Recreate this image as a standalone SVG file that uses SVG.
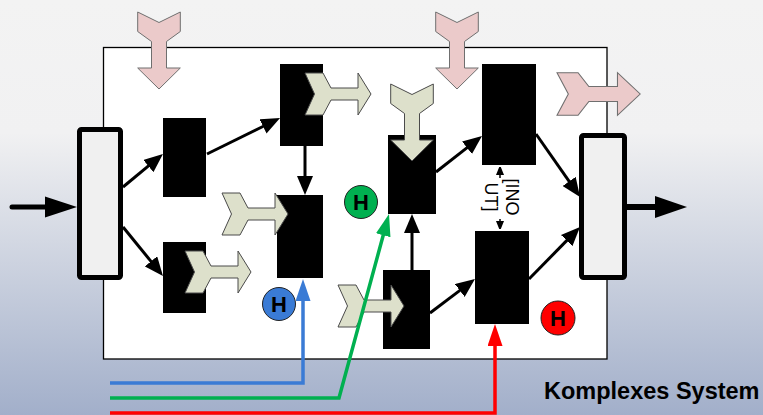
<svg xmlns="http://www.w3.org/2000/svg" width="763" height="415" viewBox="0 0 763 415">
  <defs>
    <linearGradient id="bg" x1="0" y1="0" x2="0" y2="1">
      <stop offset="0" stop-color="#f3f3f3"/>
      <stop offset="0.32" stop-color="#f1f1f2"/>
      <stop offset="1" stop-color="#a2afca"/>
    </linearGradient>
    <!-- notched arrow, long variant: tail at x=0, tip at x=77 -->
    <path id="arrowLong" d="M0,-21.3 L19.5,-21.3 L29.5,-7.5 L56,-7.5 L56,-21.3 L77,0 L56,21.3 L56,7.5 L29.5,7.5 L19.5,21.3 L0,21.3 L10.5,0 Z"/>
    <!-- notched arrow, short variant: tail at x=0, tip at x=66 -->
    <path id="arrowShort" d="M0,-21 L18,-21 L26,-6 L53,-6 L53,-21 L66,0 L53,21 L53,6 L26,6 L18,21 L0,21 L9.5,0 Z"/>
    <marker id="headBlack" markerUnits="userSpaceOnUse" markerWidth="20" markerHeight="16" refX="1" refY="8" orient="auto">
      <path d="M0,0 L19,8 L0,16 Z" fill="#000"/>
    </marker>
    <marker id="headBlue" markerUnits="userSpaceOnUse" markerWidth="23" markerHeight="15" refX="1" refY="7.5" orient="auto">
      <path d="M0,0 L22,7.5 L0,15 Z" fill="#3a7bd5"/>
    </marker>
    <marker id="headGreen" markerUnits="userSpaceOnUse" markerWidth="23" markerHeight="15" refX="1" refY="7.5" orient="auto">
      <path d="M0,0 L22,7.5 L0,15 Z" fill="#00b050"/>
    </marker>
    <marker id="headRed" markerUnits="userSpaceOnUse" markerWidth="23" markerHeight="15" refX="1" refY="7.5" orient="auto">
      <path d="M0,0 L22,7.5 L0,15 Z" fill="#ff0000"/>
    </marker>
    <marker id="headSmall" markerUnits="userSpaceOnUse" markerWidth="8" markerHeight="10" refX="1" refY="4" orient="auto">
      <path d="M0,0 L10,4 L0,8 Z" fill="#000"/>
    </marker>
  </defs>
  <style>
    .block { fill: #000; }
    .bar { fill: #f0f0f0; stroke: #000; stroke-width: 5; stroke-linejoin: round; }
    .pink { fill: #ebcaca; stroke: #6f6f6f; stroke-width: 1; }
    .sage { fill: #dde0cb; stroke: #4a4a4a; stroke-width: 1; }
    .conn { fill: none; stroke: #000; stroke-width: 3; marker-end: url(#headBlack); }
    .hcirc { stroke: #222; stroke-width: 1; }
    .hlab { font-family: "Liberation Sans", Arial, sans-serif; font-weight: bold; font-size: 22px; text-anchor: middle; fill: #000; }
    .feed { fill: none; stroke-width: 3.5; stroke-linejoin: miter; }
  </style>

  <rect x="0" y="0" width="763" height="415" fill="url(#bg)"/>

  <!-- system boundary -->
  <g id="system">
    <rect x="103.5" y="47.5" width="503.5" height="311.5" fill="#fff" stroke="#000" stroke-width="1.3"/>
  </g>

  <!-- input / output bars -->
  <g id="inputBar">
    <rect class="bar" x="79.5" y="129.5" width="41" height="148" rx="2"/>
  </g>
  <g id="outputBar">
    <rect class="bar" x="581.5" y="135.5" width="43" height="142" rx="2"/>
  </g>

  <!-- processing blocks -->
  <g id="block1"><rect class="block" x="163" y="118" width="43" height="79"/></g>
  <g id="block2"><rect class="block" x="280" y="64" width="43" height="82"/></g>
  <g id="block3"><rect class="block" x="163" y="242" width="43" height="71"/></g>
  <g id="block4"><rect class="block" x="277" y="195" width="46" height="83"/></g>
  <g id="block5"><rect class="block" x="388" y="135" width="48" height="79"/></g>
  <g id="block6"><rect class="block" x="482" y="64" width="54" height="101"/></g>
  <g id="block7"><rect class="block" x="383" y="270" width="47" height="79"/></g>
  <g id="block8"><rect class="block" x="475" y="231" width="54" height="93"/></g>

  <!-- connectors -->
  <g id="connectors">
    <path d="M12,207 L46,207" stroke="#000" stroke-width="5" stroke-linecap="round" fill="none"/>
    <polygon points="45,196.5 77,207 45,217.5" fill="#000"/>
    <path d="M627,207 L656,207" stroke="#000" stroke-width="6" fill="none"/>
    <polygon points="655,196 687,207 655,218" fill="#000"/>

    <path class="conn" d="M123,187 L149.1,165.4"/>
    <path class="conn" d="M123,227 L151.6,262.1"/>
    <path class="conn" d="M207,154 L263.9,126"/>
    <path class="conn" d="M305,146 L305,177"/>
    <path class="conn" d="M436,172 L467.8,147.1"/>
    <path class="conn" d="M536,134 L569.7,182.2"/>
    <path class="conn" d="M529,279 L567.4,239.9"/>
    <path class="conn" d="M412,270 L412,232"/>
    <path class="conn" d="M430,313 L460.6,289.9"/>

    <!-- short two-way link between block6 and block8 -->
    <path d="M500,178 L500,174" stroke="#000" stroke-width="1.5" marker-end="url(#headSmall)"/>
    <path d="M500,219 L500,222" stroke="#000" stroke-width="1.5" marker-end="url(#headSmall)"/>
    <text transform="translate(495,197) rotate(90)" font-family="Liberation Sans, Arial, sans-serif" font-size="18" text-anchor="middle" fill="#000"><tspan x="0" y="-11">[INO</tspan><tspan x="0" y="10.5">UT]</tspan></text>
  </g>

  <!-- external influences -->
  <g id="influenceTop1"><use href="#arrowLong" class="pink" transform="translate(159,12) rotate(90)"/></g>
  <g id="influenceTop2"><use href="#arrowLong" class="pink" transform="translate(457,12) rotate(90)"/></g>
  <g id="influenceRight"><use href="#arrowLong" class="pink" transform="translate(557,94) scale(1.08,1)"/></g>

  <!-- internal side flows -->
  <g id="flow1"><use href="#arrowShort" class="sage" transform="translate(305,94)"/></g>
  <g id="flow2"><use href="#arrowShort" class="sage" transform="translate(222,214)"/></g>
  <g id="flow3"><use href="#arrowShort" class="sage" transform="translate(185,272)"/></g>
  <g id="flow4"><use href="#arrowLong" class="sage" transform="translate(412,84) rotate(90)"/></g>
  <g id="flow5"><use href="#arrowShort" class="sage" transform="translate(338,306)"/></g>

  <!-- H markers -->
  <g id="hBlue">
    <circle class="hcirc" cx="279" cy="304" r="16.5" fill="#3a7bd5"/>
    <text class="hlab" x="279" y="312">H</text>
  </g>
  <g id="hGreen">
    <circle class="hcirc" cx="361" cy="202" r="16.5" fill="#00b050"/>
    <text class="hlab" x="361" y="210">H</text>
  </g>
  <g id="hRed">
    <circle class="hcirc" cx="558" cy="318" r="17" fill="#ff0000"/>
    <text class="hlab" x="558" y="326">H</text>
  </g>

  <!-- feed lines -->
  <g id="feeds">
    <path class="feed" d="M110,383 L303,383 L303,300" stroke="#3a7bd5" marker-end="url(#headBlue)"/>
    <path class="feed" d="M110,398 L339,398 L383.5,234.3" stroke="#00b050" marker-end="url(#headGreen)"/>
    <path class="feed" d="M110,413 L495,413 L495,345" stroke="#ff0000" marker-end="url(#headRed)"/>
  </g>

  <g id="caption">
    <text x="544" y="399" font-family="Liberation Sans, Arial, sans-serif" font-weight="bold" font-size="23.5" fill="#000">Komplexes System</text>
  </g>
</svg>
